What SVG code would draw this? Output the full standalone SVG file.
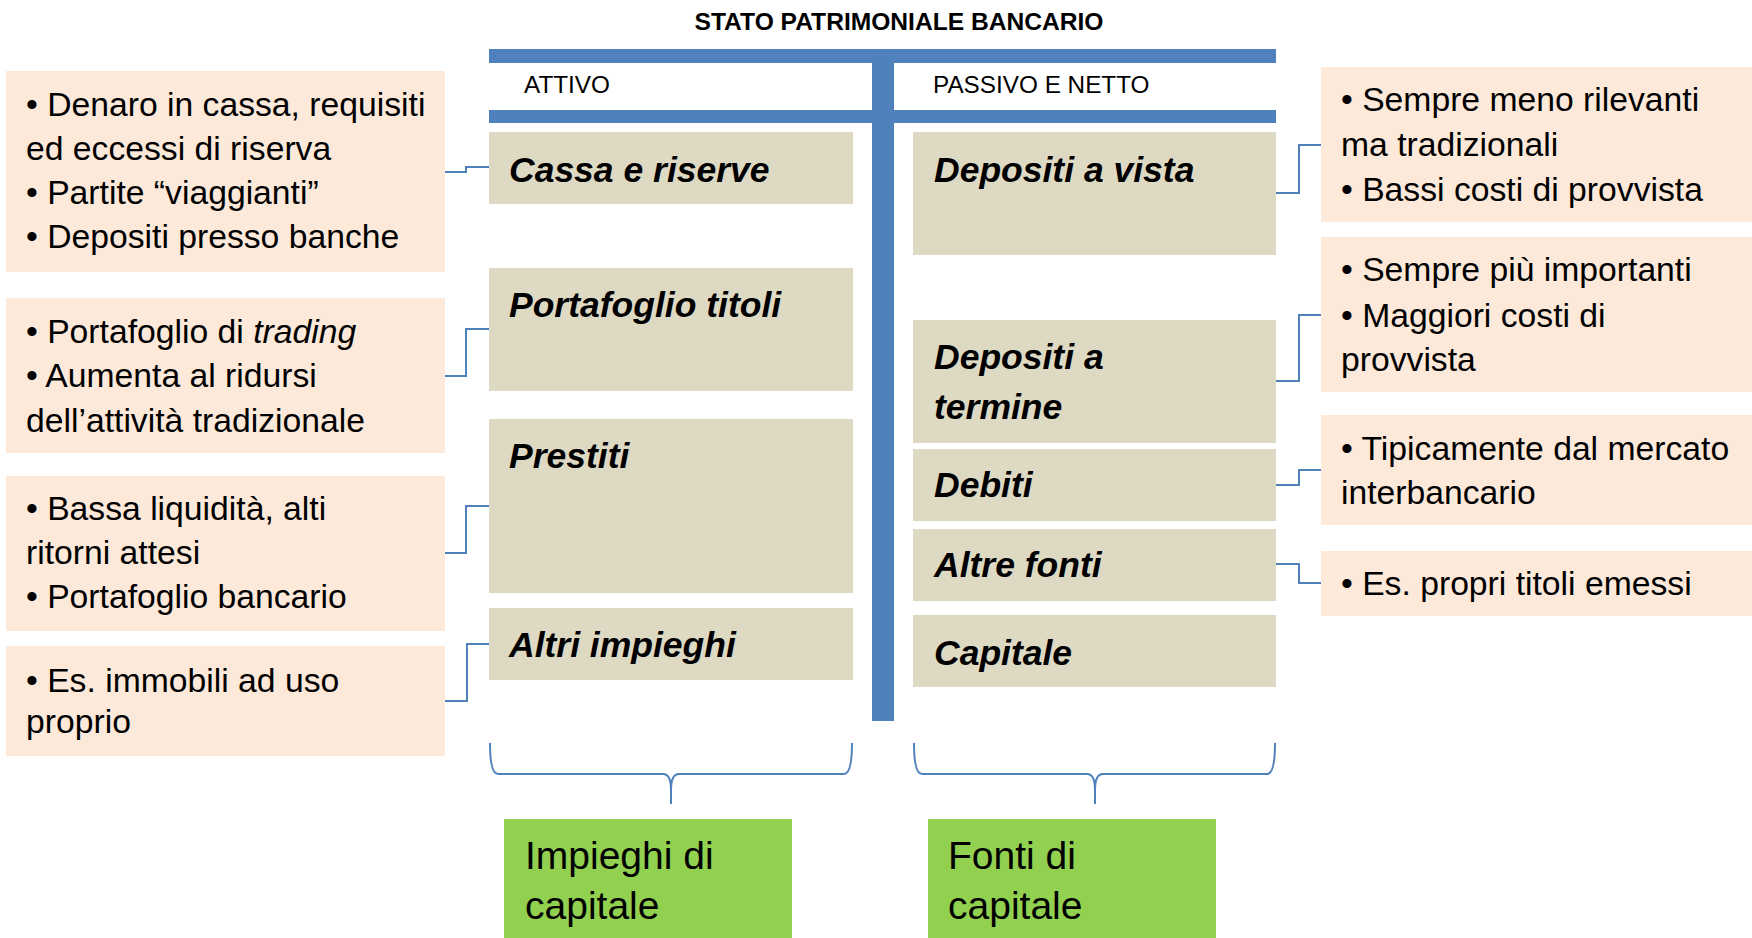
<svg xmlns="http://www.w3.org/2000/svg" width="1752" height="938" viewBox="0 0 1752 938">
<style>
.note{fill:#FDE9D9}
.item{fill:#DDD9C3}
.sum{fill:#92D050}
.bar{fill:#4F81BD}
.conn{fill:none;stroke:#4F81BD;stroke-width:2}
text{font-family:"Liberation Sans",Arial,sans-serif;fill:#000}
.t{font-size:33.7px}
.lbl{font-size:35.5px;font-weight:bold;font-style:italic}
.hdr{font-size:24.3px}
.ttl{font-size:24.6px;font-weight:bold}
.big{font-size:39px}
</style>
<rect width="1752" height="938" fill="#fff"/>
<text class="ttl" x="899" y="30" text-anchor="middle">STATO PATRIMONIALE BANCARIO</text>
<g id="tframe">
<rect class="bar" x="489" y="49" width="787" height="14"/>
<rect class="bar" x="489" y="110" width="787" height="13"/>
<rect class="bar" x="872" y="49" width="22" height="672"/>
<text class="hdr" x="524" y="93">ATTIVO</text>
<text class="hdr" x="933" y="93">PASSIVO E NETTO</text>
</g>
<g id="cassa"><rect class="item" x="489" y="132" width="364" height="72"/><text class="lbl" x="509" y="182">Cassa e riserve</text></g>
<g id="portafoglio"><rect class="item" x="489" y="268" width="364" height="123"/><text class="lbl" x="509" y="317">Portafoglio titoli</text></g>
<g id="prestiti"><rect class="item" x="489" y="419" width="364" height="174"/><text class="lbl" x="509" y="468">Prestiti</text></g>
<g id="altriimpieghi"><rect class="item" x="489" y="608" width="364" height="72"/><text class="lbl" x="509" y="657">Altri impieghi</text></g>
<g id="depvista"><rect class="item" x="913" y="132" width="363" height="123"/><text class="lbl" x="934" y="182">Depositi a vista</text></g>
<g id="deptermine"><rect class="item" x="913" y="320" width="363" height="123"/><text class="lbl" x="934" y="369">Depositi a</text><text class="lbl" x="934" y="419">termine</text></g>
<g id="debiti"><rect class="item" x="913" y="449" width="363" height="72"/><text class="lbl" x="934" y="497">Debiti</text></g>
<g id="altrefonti"><rect class="item" x="913" y="529" width="363" height="72"/><text class="lbl" x="934" y="577">Altre fonti</text></g>
<g id="capitale"><rect class="item" x="913" y="615" width="363" height="72"/><text class="lbl" x="934" y="665">Capitale</text></g>
<g id="note1"><rect class="note" x="6" y="71" width="439" height="201"/>
<text class="t" x="26" y="116">• Denaro in cassa, requisiti</text>
<text class="t" x="26" y="160">ed eccessi di riserva</text>
<text class="t" x="26" y="204">• Partite “viaggianti”</text>
<text class="t" x="26" y="248">• Depositi presso banche</text></g>
<g id="note2"><rect class="note" x="6" y="298" width="439" height="155"/>
<text class="t" x="26" y="343">• Portafoglio di <tspan font-style="italic">trading</tspan></text>
<text class="t" x="26" y="387">• Aumenta al ridursi</text>
<text class="t" x="26" y="432">dell’attività tradizionale</text></g>
<g id="note3"><rect class="note" x="6" y="476" width="439" height="155"/>
<text class="t" x="26" y="520">• Bassa liquidità, alti</text>
<text class="t" x="26" y="564">ritorni attesi</text>
<text class="t" x="26" y="608">• Portafoglio bancario</text></g>
<g id="note4"><rect class="note" x="6" y="646" width="439" height="110"/>
<text class="t" x="26" y="692">• Es. immobili ad uso</text>
<text class="t" x="26" y="733">proprio</text></g>
<g id="note5"><rect class="note" x="1321" y="67" width="431" height="155"/>
<text class="t" x="1341" y="111">• Sempre meno rilevanti</text>
<text class="t" x="1341" y="156">ma tradizionali</text>
<text class="t" x="1341" y="201">• Bassi costi di provvista</text></g>
<g id="note6"><rect class="note" x="1321" y="237" width="431" height="155"/>
<text class="t" x="1341" y="281">• Sempre più importanti</text>
<text class="t" x="1341" y="327">• Maggiori costi di</text>
<text class="t" x="1341" y="371">provvista</text></g>
<g id="note7"><rect class="note" x="1321" y="415" width="431" height="110"/>
<text class="t" x="1341" y="460">• Tipicamente dal mercato</text>
<text class="t" x="1341" y="504">interbancario</text></g>
<g id="note8"><rect class="note" x="1321" y="551" width="431" height="65"/>
<text class="t" x="1341" y="595">• Es. propri titoli emessi</text></g>
<g id="impieghi"><rect class="sum" x="504" y="819" width="288" height="119"/>
<text class="big" x="525" y="869">Impieghi di</text><text class="big" x="525" y="919">capitale</text></g>
<g id="fonti"><rect class="sum" x="928" y="819" width="288" height="119"/>
<text class="big" x="948" y="869">Fonti di</text><text class="big" x="948" y="919">capitale</text></g>
<g id="connectors">
<polyline class="conn" points="445,172 466,172 466,167 489,167"/>
<polyline class="conn" points="445,376 466,376 466,329 489,329"/>
<polyline class="conn" points="445,553 466,553 466,506 489,506"/>
<polyline class="conn" points="445,701 467,701 467,644 489,644"/>
<polyline class="conn" points="1276,193 1299,193 1299,145 1321,145"/>
<polyline class="conn" points="1276,381 1299,381 1299,315 1321,315"/>
<polyline class="conn" points="1276,485 1299,485 1299,470 1321,470"/>
<polyline class="conn" points="1276,564 1299,564 1299,583 1321,583"/>
<path class="conn" d="M490,743 Q490,774 498,774 L663,774 Q671,774 671,790 L671,804 M852,743 Q852,774 844,774 L679,774 Q671,774 671,790"/>
<path class="conn" d="M914,743 Q914,774 922,774 L1087,774 Q1095,774 1095,790 L1095,804 M1275,743 Q1275,774 1267,774 L1103,774 Q1095,774 1095,790"/>
</g>
</svg>
